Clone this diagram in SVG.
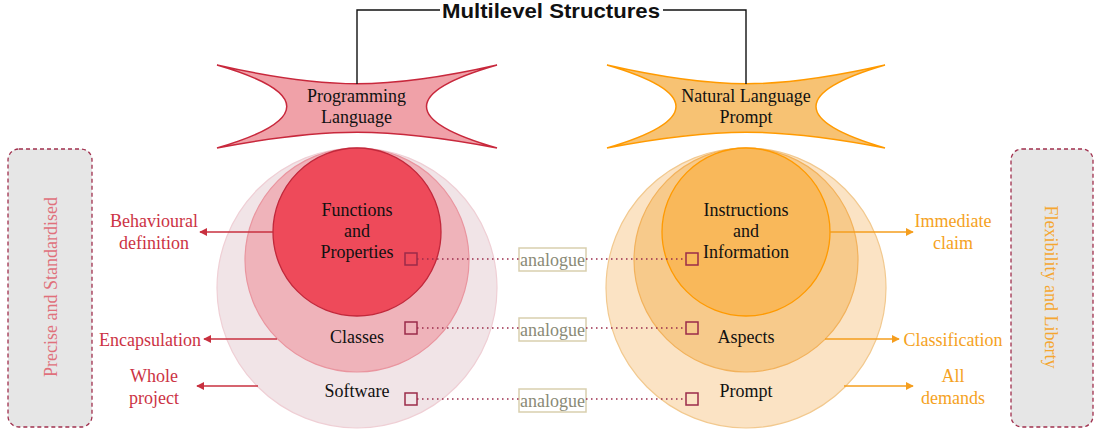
<svg xmlns="http://www.w3.org/2000/svg" width="1094" height="432" viewBox="0 0 1094 432">
<defs>
<marker id="ahR" viewBox="0 0 10 10" refX="9" refY="5" markerWidth="8" markerHeight="8" markerUnits="userSpaceOnUse" orient="auto"><path d="M0,0 L10,5 L0,10 Z" fill="#C8303F"/></marker>
<marker id="ahO" viewBox="0 0 10 10" refX="9" refY="5" markerWidth="8" markerHeight="8" markerUnits="userSpaceOnUse" orient="auto"><path d="M0,0 L10,5 L0,10 Z" fill="#F59E1E"/></marker>
<style>
text{font-family:"Liberation Serif","Times New Roman",serif;font-size:18px;text-anchor:middle;fill:#111}
.title{font-family:"Liberation Sans",Arial,sans-serif;font-weight:bold;font-size:21px}
.red{fill:#CC3344}
.org{fill:#F5A21E}
.vred{fill:#E0707B}
.vorg{fill:#F5A630}
.ana{fill:#8A8A76}
.sq{fill:none;stroke:#9B2B4A;stroke-width:1.5}
.dot{stroke:#9B2B4A;stroke-width:1.5;stroke-dasharray:1.5 3.5;fill:none}
.abox{fill:#fff;stroke:#D9CFAE;stroke-width:1.5}
.arR{stroke:#C8303F;stroke-width:1.5;fill:none;marker-end:url(#ahR)}
.arO{stroke:#F59E1E;stroke-width:1.5;fill:none;marker-end:url(#ahO)}
.side{fill:#E6E6E6;stroke:#A0304E;stroke-width:1.3;stroke-dasharray:4 3}
</style>
</defs>

<g id="title">
<text class="title" x="551" y="18" textLength="218" lengthAdjust="spacingAndGlyphs">Multilevel Structures</text>
</g>

<g id="left-side-box">
<rect class="side" x="8" y="149" width="84" height="278" rx="11"/>
<text class="vred" x="57" y="287" transform="rotate(-90 57 287)">Precise and Standardised</text>
</g>
<g id="right-side-box">
<rect class="side" x="1011" y="149" width="82" height="278" rx="11"/>
<text class="vorg" x="1045" y="287" transform="rotate(90 1045 287)">Flexibility and Liberty</text>
</g>

<g id="prog-lang">
<path d="M217,65 C327,90 387,90 497,65 C403,92 403,121 497,148 C387,127 327,127 217,148 C310,121 310,92 217,65 Z" fill="#F0A1A8" stroke="#C8283C" stroke-width="1.5"/>
<text x="356.5" y="102">Programming</text>
<text x="356.5" y="123">Language</text>
</g>
<g id="nl-prompt">
<path d="M607,65 C717,90 775,90 885,65 C793,92 793,121 885,148 C775,127 717,127 607,148 C699,121 699,92 607,65 Z" fill="#F7C273" stroke="#FF9A00" stroke-width="1.5"/>
<text x="746" y="102">Natural Language</text>
<text x="746" y="123">Prompt</text>
</g>

<g id="software">
<circle cx="357" cy="288" r="140" fill="#F1E4E7" stroke="#EFCFD5" stroke-width="1.2"/>
<text x="357" y="397">Software</text>
</g>
<g id="classes">
<circle cx="357" cy="260" r="112" fill="#EFB3BA" stroke="#E9959F" stroke-width="1.2"/>
<text x="357" y="343">Classes</text>
</g>
<g id="functions">
<circle cx="357" cy="232" r="84" fill="#EE4A5A" stroke="#C2283B" stroke-width="1.3"/>
<text x="357" y="216">Functions</text>
<text x="357" y="237">and</text>
<text x="357" y="258">Properties</text>
</g>

<g id="prompt">
<circle cx="746" cy="288" r="140" fill="#FBE3C4" stroke="#F2C98F" stroke-width="1.2"/>
<text x="746" y="397">Prompt</text>
</g>
<g id="aspects">
<circle cx="746" cy="260" r="112" fill="#F7CA8B" stroke="#F2B25C" stroke-width="1.2"/>
<text x="746" y="343">Aspects</text>
</g>
<g id="instructions">
<circle cx="746" cy="232" r="84" fill="#F9B85A" stroke="#FF9A00" stroke-width="1.3"/>
<text x="746" y="216">Instructions</text>
<text x="746" y="237">and</text>
<text x="746" y="258">Information</text>
</g>

<g id="left-labels">
<text class="red" x="154" y="227">Behavioural</text>
<text class="red" x="154" y="249">definition</text>
<text class="red" x="150" y="346">Encapsulation</text>
<text class="red" x="154" y="382">Whole</text>
<text class="red" x="154" y="404">project</text>
</g>
<g id="right-labels">
<text class="org" x="953" y="227">Immediate</text>
<text class="org" x="953" y="249">claim</text>
<text class="org" x="953" y="346">Classification</text>
<text class="org" x="953" y="382">All</text>
<text class="org" x="953" y="404">demands</text>
</g>

<g id="analogue-1"><rect class="abox" x="519" y="248" width="67" height="23"/><text class="ana" x="552.5" y="266">analogue</text></g>
<g id="analogue-2"><rect class="abox" x="519" y="318" width="67" height="23"/><text class="ana" x="552.5" y="336">analogue</text></g>
<g id="analogue-3"><rect class="abox" x="519" y="389" width="67" height="23"/><text class="ana" x="552.5" y="407">analogue</text></g>

<g id="connectors">
<polyline points="357,84 357,10 440,10" fill="none" stroke="#111" stroke-width="1.4"/>
<polyline points="663,10 746,10 746,84" fill="none" stroke="#111" stroke-width="1.4"/>
<line class="arR" x1="273" y1="232" x2="200" y2="232"/>
<line class="arR" x1="277" y1="339" x2="204" y2="339"/>
<line class="arR" x1="258" y1="386" x2="197" y2="386"/>
<line class="arO" x1="830" y1="232" x2="913" y2="232"/>
<line class="arO" x1="825" y1="339" x2="899" y2="339"/>
<line class="arO" x1="844" y1="386" x2="913" y2="386"/>
<line class="dot" x1="417" y1="259" x2="519" y2="259"/>
<line class="dot" x1="586" y1="259" x2="686" y2="259"/>
<line class="dot" x1="417" y1="328" x2="519" y2="328"/>
<line class="dot" x1="586" y1="328" x2="686" y2="328"/>
<line class="dot" x1="417" y1="399" x2="519" y2="399"/>
<line class="dot" x1="586" y1="399" x2="686" y2="399"/>
<rect class="sq" x="405" y="253" width="12" height="12"/>
<rect class="sq" x="405" y="322" width="12" height="12"/>
<rect class="sq" x="405" y="393" width="12" height="12"/>
<rect class="sq" x="686" y="253" width="12" height="12"/>
<rect class="sq" x="686" y="322" width="12" height="12"/>
<rect class="sq" x="686" y="393" width="12" height="12"/>
</g>
</svg>
